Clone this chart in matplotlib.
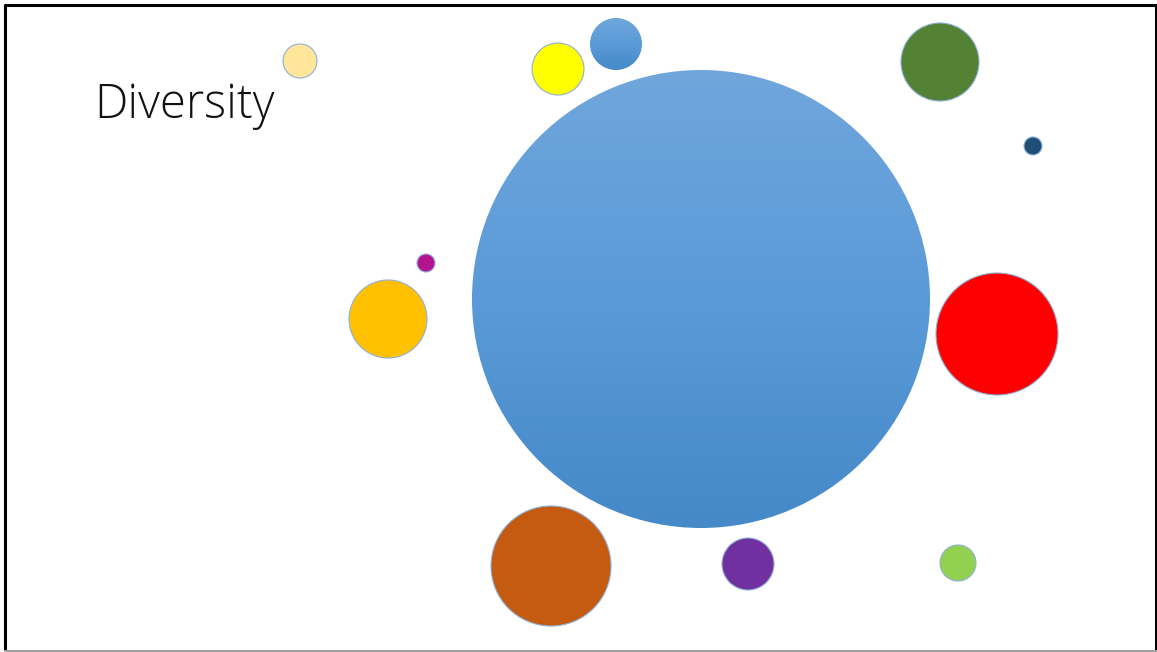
import matplotlib
matplotlib.use("Agg")
import matplotlib.pyplot as plt
import numpy as np
from matplotlib.patches import Circle
from matplotlib.colors import LinearSegmentedColormap

# Bubble data (pixel-space layout of the slide)
bubble_x = [701, 300, 558, 616, 940, 1033, 426, 388, 997, 551, 748, 958]
bubble_y = [299, 61, 69, 44, 62, 146, 263, 319, 334, 566, 564, 563]
bubble_r = [229, 17, 26, 26, 39, 9, 9, 39, 61, 60, 26, 18]
bubble_colors = ["gradient", "#ffe699", "#ffff00", "gradient", "#548235", "#1f4e79",
                 "#b4158f", "#ffc000", "#ff0000", "#c55a11", "#7030a0", "#92d050"]
title_text = "Diversity"

W, H = 1157, 652
fig = plt.figure(figsize=(W / 100, H / 100), dpi=100)
ax = fig.add_axes([0, 0, 1, 1])
ax.set_xlim(0, W)
ax.set_ylim(H, 0)
ax.set_aspect("equal")
ax.axis("off")

# frame (slide border)
ax.plot([5, 5], [4, 651], color="black", lw=2.2, solid_capstyle="butt", zorder=1)
ax.plot([4, 1157], [5, 5], color="black", lw=2.2, solid_capstyle="butt", zorder=1)
ax.plot([1155.8, 1155.8], [4, 651], color="black", lw=2.2, solid_capstyle="butt", zorder=1)
ax.plot([4, 1157], [651, 651], color="#a0a0a0", lw=1.5, solid_capstyle="butt", zorder=1)

cmap = LinearSegmentedColormap.from_list("bl", ["#70a6dc", "#5a9ad8", "#4589c8"])
grad = np.linspace(0, 1, 256).reshape(-1, 1)

for x, y, r, c in zip(bubble_x, bubble_y, bubble_r, bubble_colors):
    if c == "gradient":
        circ = Circle((x, y), r, facecolor="none", edgecolor="none", zorder=2)
        ax.add_patch(circ)
        im = ax.imshow(grad, cmap=cmap, extent=(x - r, x + r, y + r, y - r),
                       aspect="auto", zorder=2, interpolation="bilinear")
        im.set_clip_path(circ)
    else:
        ax.add_patch(Circle((x, y), r, facecolor=c, edgecolor="#8fb0d8", lw=0.8, zorder=3))

ax.set_xlim(0, W)
ax.set_ylim(H, 0)

ax.text(94, 118, title_text, fontsize=34, family=["Open Sans", "DejaVu Sans"],
        fontweight="light", color="#111111", ha="left", va="baseline")

fig.savefig("out.png", dpi=100, facecolor="white")
